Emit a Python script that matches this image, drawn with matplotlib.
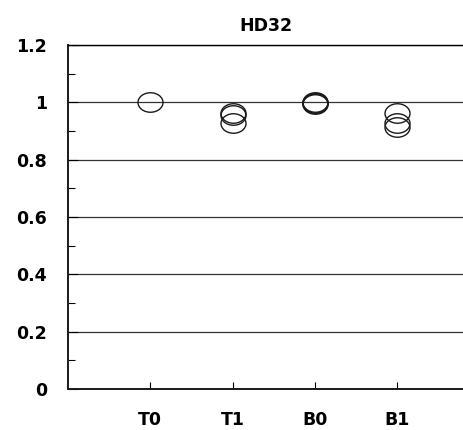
import numpy as np
import matplotlib
matplotlib.use('Agg')
import matplotlib.pyplot as plt
from matplotlib.path import Path

# 데이터
categories = ['T0', 'T1', 'B0', 'B1']
t0_vals = [1.0]
t1_vals = [0.965, 0.955, 0.927]
b0_vals = [1.0, 0.997, 0.994, 0.999]
b1_vals = [0.965, 0.928, 0.913]
y_ticks = [0, 0.2, 0.4, 0.6, 0.8, 1.0, 1.2]
y_labels = ['0', '0.2', '0.4', '0.6', '0.8', '1', '1.2']

plt.rcParams['font.family'] = ['DejaVu Sans']

# 가로로 살짝 긴 타원 마커
circ = Path.unit_circle()
ellipse = Path(circ.vertices * np.array([1.0, 0.78]), circ.codes)

fig = plt.figure(figsize=(4.63, 4.30), dpi=100)
ax = fig.add_axes([0.147, 0.095, 0.853, 0.80])

for i, vals in enumerate([t0_vals, t1_vals, b0_vals, b1_vals]):
    ax.plot([i + 1] * len(vals), vals, linestyle='none', marker=ellipse,
            markersize=18, markerfacecolor='none', markeredgecolor='#1a1a1a',
            markeredgewidth=1.0)

ax.set_xlim(0, 4.8)
ax.set_ylim(0, 1.2)
ax.set_xticks(range(1, len(categories) + 1))
ax.set_xticklabels(categories, fontsize=12.5, fontweight='bold')
ax.set_yticks(y_ticks)
ax.set_yticklabels(y_labels, fontsize=12.5, fontweight='bold')
ax.set_yticks(np.arange(0.1, 1.2, 0.2), minor=True)

ax.yaxis.grid(True, color='#333333', linewidth=0.9)
ax.set_axisbelow(True)
ax.tick_params(axis='y', direction='in', length=7, width=0.8, pad=15)
ax.tick_params(axis='y', which='minor', direction='in', length=5, width=0.8)
ax.tick_params(axis='x', direction='in', length=5, width=0.8, pad=16)

for s in ['left', 'bottom']:
    ax.spines[s].set_linewidth(1.4)
    ax.spines[s].set_color('#1a1a1a')
ax.spines['top'].set_linewidth(1.0)
ax.spines['right'].set_visible(False)

ax.set_title('HD32', fontsize=12.5, fontweight='bold', pad=10)

fig.savefig('out.png', dpi=100)
